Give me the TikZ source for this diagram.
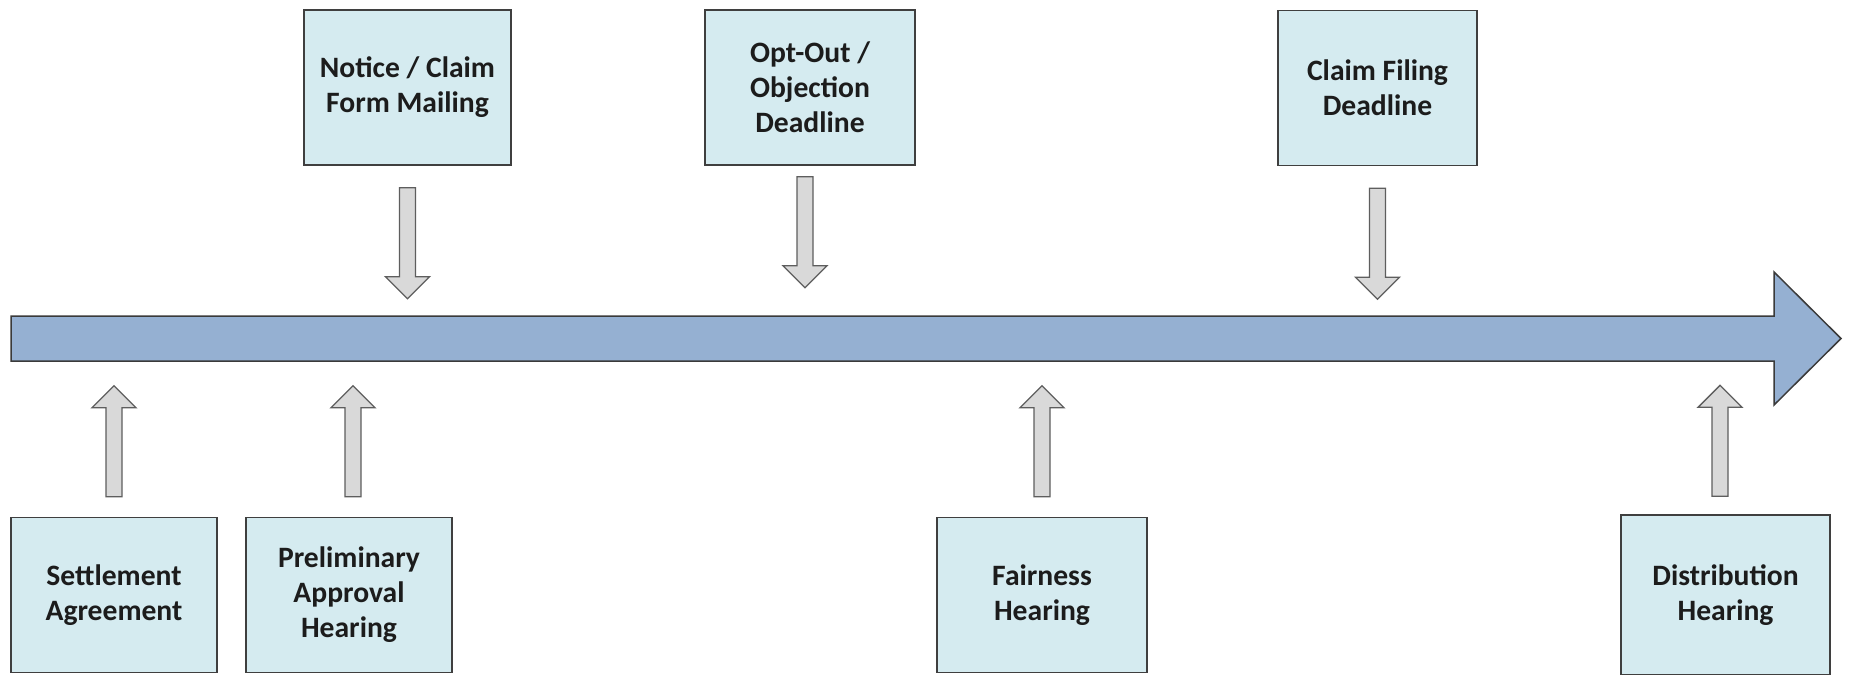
\documentclass[tikz,border=0pt]{standalone}
\usepackage{fontspec}
\setmainfont{Carlito}
\usepackage{tikz}
\usetikzlibrary{positioning, calc}
\definecolor{boxfill}{HTML}{D5EBF0}
\definecolor{boxline}{HTML}{3F3F3F}
\definecolor{barfill}{HTML}{95B0D2}
\definecolor{barline}{HTML}{3A3A3A}
\definecolor{blkfill}{HTML}{D9D9D9}
\definecolor{blkline}{HTML}{5E5E5E}
\definecolor{txtdark}{HTML}{1C1C1C}
\tikzset{
  % Event boxes
  event/.style={
    rectangle, draw=boxline, fill=boxfill, line width=0.7pt,
    minimum width=#1, minimum height=77.5pt, inner sep=0pt,
    font=\fontsize{14.8}{17.5}\selectfont\bfseries, text=txtdark,
    align=center,
  },
  event/.default={103.5pt},
  % Timeline bar
  timeline/.style={draw=barline, fill=barfill, line width=0.75pt, line join=miter},
  % Block arrows (gray)
  blkstyle/.style={draw=blkline, fill=blkfill, line width=0.65pt, line join=miter},
  pics/blkdown/.style={code={
    \draw[blkstyle] (-8,0) -- (8,0) -- (8,89) -- (22,89) -- (0,111)
      -- (-22,89) -- (-8,89) -- cycle;
  }},
  pics/blkup/.style={code={
    \draw[blkstyle] (-8,0) -- (8,0) -- (8,-89) -- (22,-89) -- (0,-111)
      -- (-22,-89) -- (-8,-89) -- cycle;
  }},
}

\begin{document}
\begin{tikzpicture}[x=0.5pt, y=-0.5pt]

  \fill[white] (0,0) rectangle (1850,674);
  \useasboundingbox (0,0) rectangle (1850,674);

  % Timeline
  \coordinate (tl-tail) at (11,338.5);
  \coordinate (tl-tip) at (1841,338.5);
  \draw[timeline] ($(tl-tail)+(0,-22.5)$) -- ($(tl-tip)+(-67,-22.5)$)
    -- ($(tl-tip)+(-67,-66.5)$) -- (tl-tip) -- ($(tl-tip)+(-67,66.5)$)
    -- ($(tl-tip)+(-67,22.5)$) -- ($(tl-tail)+(0,22.5)$) -- cycle;

  % Top row
  \node[event=103.5pt] (notice) at (407.5,87.5) {Notice / Claim\\Form Mailing};
  \node[event=105pt] (optout) at (810,87.5) {Opt-Out /\\Objection\\Deadline};
  \node[event=99.5pt] (claim) at (1377.5,88) {Claim Filing\\Deadline};

  % Bottom row
  \node[event=103pt] (settle) at (114,595) {Settlement\\Agreement};
  \node[event=103pt] (prelim) at (349,595) {Preliminary\\Approval\\Hearing};
  \node[event=105pt] (fair) at (1042,595) {Fairness\\Hearing};
  \node[event=104.5pt, minimum height=80pt] (distrib) at (1725.5,595) {Distribution\\Hearing};

  % Arrows to the timeline
  \pic at ($(notice.south)+(0,22)$) {blkdown};
  \pic at ($(optout.south)+(-5,11)$) {blkdown};
  \pic at ($(claim.south)+(0,22)$) {blkdown};

  \pic at ($(settle.north)+(0,-20)$) {blkup};
  \pic at ($(prelim.north)+(4,-20)$) {blkup};
  \pic at ($(fair.north)+(0,-20)$) {blkup};
  \pic at ($(distrib.north)+(-5.5,-18)$) {blkup};

\end{tikzpicture}
\end{document}
